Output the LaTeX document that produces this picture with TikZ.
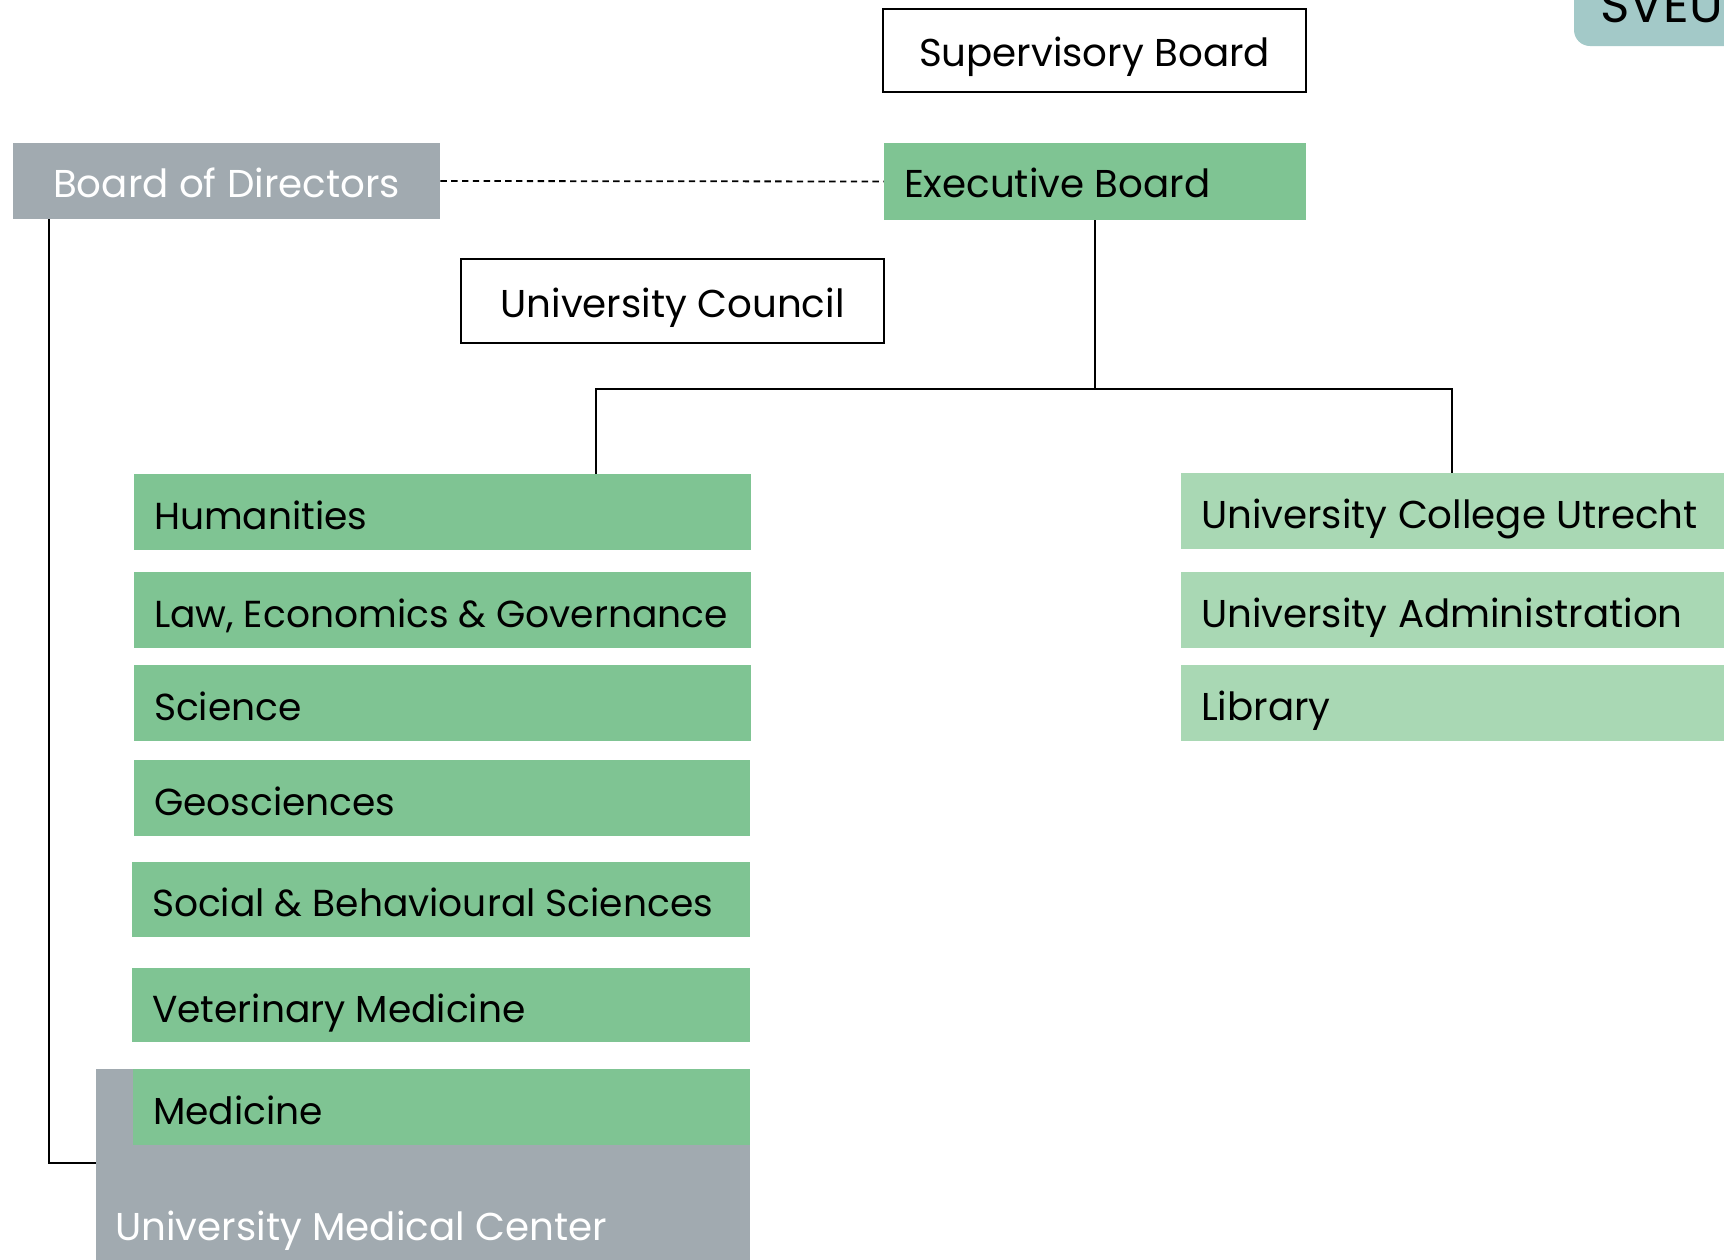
\documentclass[tikz,border=0pt]{standalone}
\usepackage{fontspec}
\setmainfont{Poppins}
\usetikzlibrary{fit,calc}
\definecolor{fgreen}{HTML}{7FC493}
\definecolor{lgreen}{HTML}{A9D8B4}
\definecolor{bgray}{HTML}{A1AAB0}
\definecolor{steal}{HTML}{A3C9C8}
\tikzset{
  box/.style={inner sep=0pt, draw=none},
  wbox/.style={inner sep=0pt, draw=black, line width=1pt, fill=white},
  lbl/.style={inner sep=0pt, font=\fontsize{19.4}{22}\selectfont, text=black},
  flbl/.style={lbl, font=\fontsize{18.8}{22}\selectfont},
  wlbl/.style={lbl, text=white},
  conn/.style={line width=0.9pt, draw=black},
}
\begin{document}
\begin{tikzpicture}[x=0.5pt,y=-0.5pt]
\useasboundingbox (0,0) rectangle (1724,1259);
\clip (0,0) rectangle (1724,1259);
% SVEU tab
\fill[steal, rounded corners=8pt] (1574,-30) rectangle (1760,46);
\node[lbl, font=\fontsize{25}{28}\selectfont, anchor=base west] (sveu) at (1600,22) {SVEU};
% top boxes
\node[wbox, fit={(883,9) (1306,92)}] (sb) {};
\node[lbl] (sbt) at ([yshift=-8pt]sb.center) [anchor=base] {Supervisory Board};
\node[box, fill=fgreen, fit={(884,143) (1306,220)}] (eb) {};
\node[lbl, anchor=base west] (ebt) at ([xshift=10pt,yshift=-8pt]eb.west) {Executive Board};
\node[box, fill=bgray, fit={(13,143) (440,219)}] (bod) {};
\node[wlbl, anchor=base] (bodt) at ([yshift=-8pt]bod.center) {Board of Directors};
\node[wbox, fit={(461,259) (884,343)}] (uc) {};
\node[lbl, anchor=base] (uct) at ([yshift=-8pt]uc.center) {University Council};
% UMC background
\node[box, fill=bgray, fit={(96,1069) (750,1270)}] (umc) {};
\node[wlbl, anchor=base west] (umct) at (115,1240) {University Medical Center};
% faculties
\node[box, fill=fgreen, fit={(134,474) (751,550)}] (hum) {};
\node[box, fill=fgreen, fit={(134,572) (751,648)}] (law) {};
\node[box, fill=fgreen, fit={(134,665) (751,741)}] (sci) {};
\node[box, fill=fgreen, fit={(134,760) (750,836)}] (geo) {};
\node[box, fill=fgreen, fit={(132,862) (750,937)}] (soc) {};
\node[box, fill=fgreen, fit={(132,968) (750,1042)}] (vet) {};
\node[box, fill=fgreen, fit={(133,1069) (750,1145)}] (med) {};
\foreach \n/\t in {hum/Humanities, law/{Law, Economics \& Governance}, sci/Science, geo/Geosciences, soc/{Social \& Behavioural Sciences}, vet/Veterinary Medicine, med/Medicine}
  \node[flbl, anchor=base west] (\n t) at ([xshift=10pt,yshift=-8.5pt]\n.west) {\t};
% services
\node[box, fill=lgreen, fit={(1181,473) (1730,549)}] (ucu) {};
\node[box, fill=lgreen, fit={(1181,572) (1730,648)}] (adm) {};
\node[box, fill=lgreen, fit={(1181,665) (1730,741)}] (lib) {};
\foreach \n/\t in {ucu/University College Utrecht, adm/University Administration, lib/Library}
  \node[lbl, anchor=base west] (\n t) at ([xshift=10pt,yshift=-8.5pt]\n.west) {\t};
% connectors
\draw[conn, dash pattern=on 3.2pt off 2.2pt] (bod.east) -- (eb.west);
\coordinate (jl) at (596,389);
\coordinate (jr) at (1452,389);
\draw[conn] (eb.south) -- (eb.south |- jl);
\draw[conn] (jl |- hum.north) -- (jl) -- (jr) -- (jr |- ucu.north);
\coordinate (bl) at (49,1163);
\draw[conn] (bl |- bod.south) -- (bl) -- (bl -| umc.west);
\end{tikzpicture}
\end{document}
